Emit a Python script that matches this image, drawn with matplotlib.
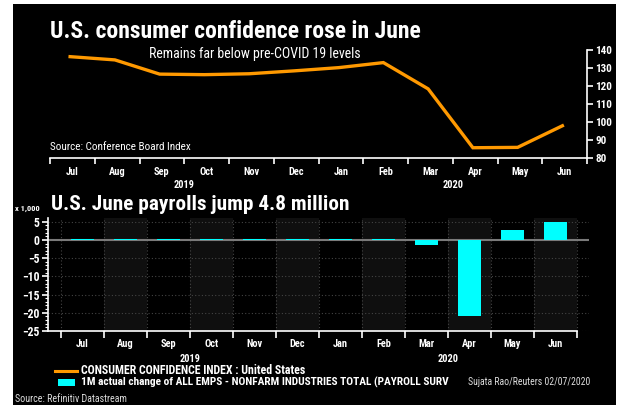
import matplotlib
matplotlib.use('Agg')
import matplotlib.pyplot as plt
from matplotlib import font_manager
from matplotlib.patches import Rectangle
from matplotlib.lines import Line2D

# data
months = ['Jul', 'Aug', 'Sep', 'Oct', 'Nov', 'Dec', 'Jan', 'Feb', 'Mar', 'Apr', 'May', 'Jun']
years = ['2019', '2020']
confidence = [136.3, 134.5, 126.6, 126.3, 126.8, 128.4, 130.2, 133.0, 118.4, 85.7, 85.9, 97.9]
payrolls = [0.17, 0.21, 0.19, 0.19, 0.26, 0.18, 0.21, 0.27, -1.37, -20.8, 2.7, 4.8]
conf_ticks = [80, 90, 100, 110, 120, 130, 140]
pay_ticks = [-25, -20, -15, -10, -5, 0, 5]

installed = {f.name for f in font_manager.fontManager.ttflist}
narrow = [f for f in ['Liberation Sans Narrow', 'Roboto Condensed', 'Liberation Sans'] if f in installed][0]
plt.rcParams['font.family'] = [narrow, 'DejaVu Sans']

ORANGE = '#ff9900'
CYAN = '#00ffff'
W, H = 618, 405

def fx(px):
    return px / W

def fy(py):
    return 1 - py / H

def month_axis(ax, month_y, year_y):
    # month names centred in each month, years centred under their half
    tr = ax.get_xaxis_transform()
    for i, m in enumerate(months):
        ax.text(i + 0.5, month_y, m, transform=tr, ha='center', va='baseline',
                color='white', fontsize=7.5, fontweight='bold', clip_on=False)
    for x, yr in zip([3, 9], years):
        ax.text(x, year_y, yr, transform=tr, ha='center', va='baseline',
                color='white', fontsize=7.5, fontweight='bold', clip_on=False)

fig = plt.figure(figsize=(6.18, 4.05), dpi=100, facecolor='white')
fig.patches.append(Rectangle((fx(13), 0), fx(616) - fx(13), fy(4), transform=fig.transFigure,
                             facecolor='black', edgecolor='none', zorder=-10))

# ---- top chart: consumer confidence ----
ax1 = fig.add_axes([fx(50), fy(158), fx(587) - fx(50), fy(50) - fy(158)])
ax1.set_facecolor('none')
xs = [i + 0.45 for i in range(len(months))]
ax1.plot(xs, confidence, color=ORANGE, lw=2.4, solid_joinstyle='miter')
ax1.set_xlim(0, 12)
ax1.set_ylim(80, 140)
for s in ['top', 'left']:
    ax1.spines[s].set_visible(False)
for s in ['bottom', 'right']:
    ax1.spines[s].set_color('white')
    ax1.spines[s].set_linewidth(1.2)
ax1.yaxis.tick_right()
ax1.set_yticks(conf_ticks)
ax1.tick_params(axis='y', colors='white', length=4, width=1.2, pad=2, labelsize=8)
for t in ax1.get_yticklabels():
    t.set_fontweight('bold')
ax1.set_xticks(range(13))
ax1.set_xticklabels([])
ax1.tick_params(axis='x', colors='white', length=4, width=1.2)
month_axis(ax1, -0.162, -0.282)

fig.text(fx(50), fy(32), 'U.S. consumer confidence rose in June', color='white',
         fontsize=17, fontweight='bold', va='center', ha='left')
fig.text(fx(255), fy(54), 'Remains far below pre-COVID 19 levels', color='white',
         fontsize=10, va='center', ha='center')
fig.text(fx(50), fy(147), 'Source: Conference Board Index', color='white',
         fontsize=8, va='center', ha='left')

# ---- bottom chart: payrolls ----
ax2 = fig.add_axes([fx(48), fy(331), fx(589) - fx(48), fy(218) - fy(331)])
ax2.set_facecolor('black')
ax2.set_xlim(-0.3, 12.28)
ax2.set_ylim(-25, 6)
for i in range(1, 12, 2):
    ax2.axvspan(i, i + 1, color='#0f0f0f', zorder=0, lw=0)
for v in range(13):
    ax2.axvline(v, color='#444444', lw=0.8, ls=(0, (1, 2)), zorder=1)
for v in pay_ticks:
    if v != 0:
        ax2.axhline(v, color='#444444', lw=0.8, ls=(0, (1, 2)), zorder=1)
ax2.axhline(0, color='#7a7a7a', lw=1.5, zorder=2)
ax2.bar([i + 0.5 for i in range(12)], payrolls, width=0.52, color=CYAN, zorder=3)

for s in ['top', 'right']:
    ax2.spines[s].set_visible(False)
for s in ['bottom', 'left']:
    ax2.spines[s].set_color('white')
    ax2.spines[s].set_linewidth(1.2)
ax2.spines['bottom'].set_bounds(-0.3, 12)
ax2.set_yticks(pay_ticks)
ax2.set_yticks(range(-25, 6), minor=True)
ax2.tick_params(axis='y', which='major', colors='white', length=4, width=1.2, pad=2, labelsize=8.5)
ax2.tick_params(axis='y', which='minor', colors='white', length=2, width=0.8)
for t in ax2.get_yticklabels():
    t.set_fontweight('bold')
ax2.set_xticks(range(13))
ax2.set_xticklabels([])
ax2.tick_params(axis='x', colors='white', length=5, width=1.2)
month_axis(ax2, -0.146, -0.27)

fig.text(fx(51), fy(205), 'U.S. June payrolls jump 4.8 million', color='white',
         fontsize=15.3, fontweight='bold', va='center', ha='left')
fig.text(fx(15), fy(208), 'x 1,000', color='white', fontsize=6, fontweight='bold',
         va='center', ha='left')

# legend and credits
fig.lines.append(Line2D([fx(55), fx(77)], [fy(371), fy(371)], transform=fig.transFigure,
                        color=ORANGE, lw=2.2))
fig.patches.append(Rectangle((fx(58), fy(386)), fx(75) - fx(58), fy(379) - fy(386),
                             transform=fig.transFigure, facecolor=CYAN, edgecolor='none'))
fig.text(fx(81), fy(371), 'CONSUMER CONFIDENCE INDEX : United States', color='white',
         fontsize=8.6, fontweight='bold', va='center', ha='left')
fig.text(fx(81), fy(382), '1M actual change of ALL EMPS - NONFARM INDUSTRIES TOTAL (PAYROLL SURV',
         color='white', fontsize=8.2, fontweight='bold', va='center', ha='left')
fig.text(fx(468), fy(382), 'Sujata Rao/Reuters 02/07/2020', color='#dddddd', fontsize=7,
         va='center', ha='left')
fig.text(fx(15), fy(399), 'Source: Refinitiv Datastream', color='#dddddd', fontsize=7.2,
         va='center', ha='left')

fig.savefig('out.png', dpi=100, facecolor='white')
